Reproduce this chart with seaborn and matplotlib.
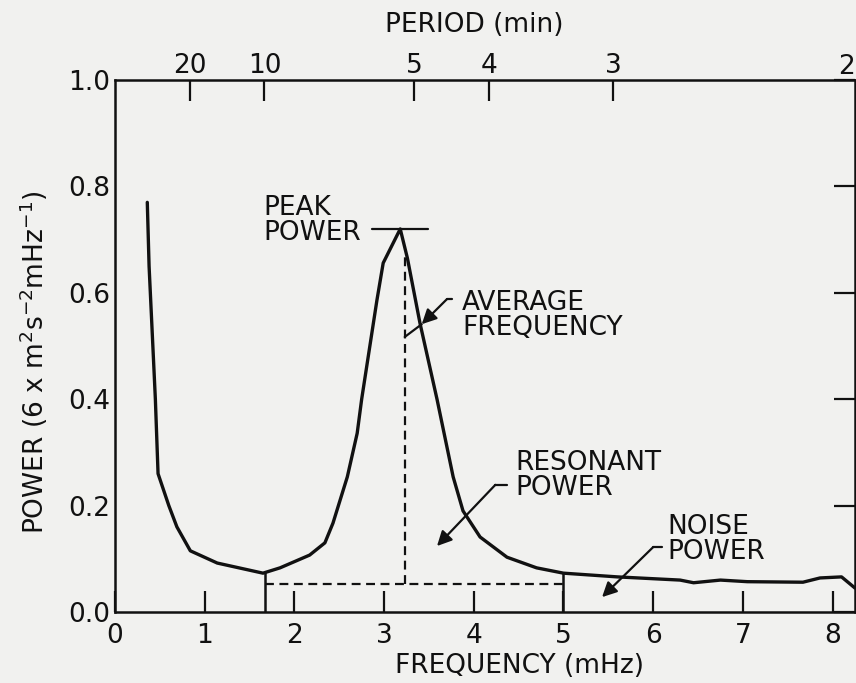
import numpy as np
import matplotlib
matplotlib.use('Agg')
import matplotlib.pyplot as plt
import seaborn as sns

# Power spectrum
freq_mhz = [0.36, 0.38, 0.45, 0.48, 0.60, 0.69, 0.84, 1.14, 1.65, 1.84,
            2.06, 2.17, 2.34, 2.43, 2.59, 2.70, 2.75, 2.92, 2.99, 3.18,
            3.26, 3.40, 3.59, 3.77, 3.88, 4.07, 4.37, 4.70, 5.00, 5.60,
            6.30, 6.45, 6.75, 7.05, 7.67, 7.86, 8.10, 8.25]
power = [0.77, 0.65, 0.40, 0.26, 0.20, 0.16, 0.115, 0.092, 0.073, 0.083,
         0.099, 0.107, 0.13, 0.167, 0.254, 0.336, 0.40, 0.586, 0.656, 0.72,
         0.665, 0.543, 0.40, 0.254, 0.19, 0.141, 0.103, 0.083, 0.073, 0.066,
         0.060, 0.055, 0.060, 0.057, 0.056, 0.064, 0.066, 0.045]

# resonant band and derived quantities
band_edges = [1.67, 5.0]
avg_freq = 3.23
noise_level = 0.053
peak_power = 0.72
peak_freq = 3.18

freq_ticks = [0, 1, 2, 3, 4, 5, 6, 7, 8]
power_ticks = [0.0, 0.2, 0.4, 0.6, 0.8, 1.0]
period_ticks = [20, 10, 5, 4, 3, 2]

sns.set_style('white')
plt.rcParams['font.family'] = ['DejaVu Sans']
plt.rcParams['mathtext.fontset'] = 'dejavusans'

bg = '#f1f1ef'
ink = '#111111'
fs = 19

fig = plt.figure(figsize=(8.56, 6.83), dpi=100, facecolor=bg)
ax = fig.add_axes([115 / 856, 71 / 683, 740 / 856, 532 / 683])
ax.set_facecolor(bg)

sns.lineplot(x=freq_mhz, y=power, ax=ax, color=ink, lw=2.4, sort=False)

# band edges (solid) and the noise / average-frequency lines (dashed)
for f in band_edges:
    ax.plot([f, f], [0, np.interp(f, freq_mhz, power)], color=ink, lw=1.8)
ax.plot(band_edges, [noise_level, noise_level], color=ink, lw=1.6, ls=(0, (4, 2.5)))
ax.plot([avg_freq, avg_freq], [noise_level, np.interp(avg_freq, freq_mhz, power) - 0.015],
        color=ink, lw=1.6, ls=(0, (4, 2.5)))

# peak power marker
ax.plot([peak_freq - 0.31, peak_freq + 0.31], [peak_power, peak_power], color=ink, lw=1.6)

ax.set_xlim(0, 8.25)
ax.set_ylim(0, 1.0)
ax.set_xticks(freq_ticks)
ax.set_xticklabels([str(t) for t in freq_ticks])
ax.set_yticks(power_ticks)
ax.set_yticklabels([f'{t:.1f}' for t in power_ticks])
ax.tick_params(axis='both', direction='in', length=15, width=1.6, labelsize=fs, colors=ink)
ax.tick_params(axis='y', right=True, pad=3.5)
ax.tick_params(axis='x', pad=8)
for s in ax.spines.values():
    s.set_linewidth(1.8)
    s.set_color(ink)

ax.set_xlabel('FREQUENCY (mHz)', fontsize=fs, color=ink)
ax.xaxis.set_label_coords(0.546, -0.078)
ax.set_ylabel(r'POWER (6 x m$^2$s$^{-2}$mHz$^{-1}$)', fontsize=19, color=ink)
ax.yaxis.set_label_coords(-0.088, 0.47)

# period axis on top
ax2 = ax.twiny()
ax2.set_xlim(ax.get_xlim())
ax2.set_xticks([1000 / (60 * p) for p in period_ticks[:-1]])
ax2.set_xticklabels([str(p) for p in period_ticks[:-1]])
ax2.tick_params(axis='x', direction='in', length=15, width=1.6, labelsize=fs, colors=ink, pad=1)
# the 2-min tick sits just past the right edge; keep its label inside
ax2.text(ax.get_xlim()[1], 1.0, str(period_ticks[-1]), transform=ax2.get_xaxis_transform(),
         ha='right', va='bottom', fontsize=fs, color=ink)
ax2.set_xlabel('PERIOD (min)', fontsize=fs, color=ink)
ax2.xaxis.set_label_coords(0.486, 1.09)
for s in ax2.spines.values():
    s.set_visible(False)

# labels and leaders
def label(x, y, txt):
    ax.text(x, y, txt, fontsize=fs, color=ink, ha='left', va='baseline', linespacing=0.95)

def leader(stub, start, tip, head=True):
    ax.plot([stub[0], start[0]], [stub[1], start[1]], color=ink, lw=1.6)
    ax.annotate('', xy=tip, xytext=start,
                arrowprops=dict(arrowstyle='-|>' if head else '-', color=ink, lw=1.6,
                                mutation_scale=22, shrinkA=0, shrinkB=0))

label(1.65, 0.699, 'PEAK\nPOWER')
label(3.87, 0.521, 'AVERAGE\nFREQUENCY')
leader((3.76, 0.588), (3.70, 0.588), (3.42, 0.541))
ax.plot([3.42, avg_freq], [0.541, 0.517], color=ink, lw=1.6)
label(4.46, 0.22, 'RESONANT\nPOWER')
leader((4.37, 0.239), (4.24, 0.239), (3.59, 0.124))
label(6.16, 0.10, 'NOISE\nPOWER')
leader((6.10, 0.122), (6.00, 0.122), (5.43, 0.028))

fig.savefig('out.png', dpi=100, facecolor=bg)
